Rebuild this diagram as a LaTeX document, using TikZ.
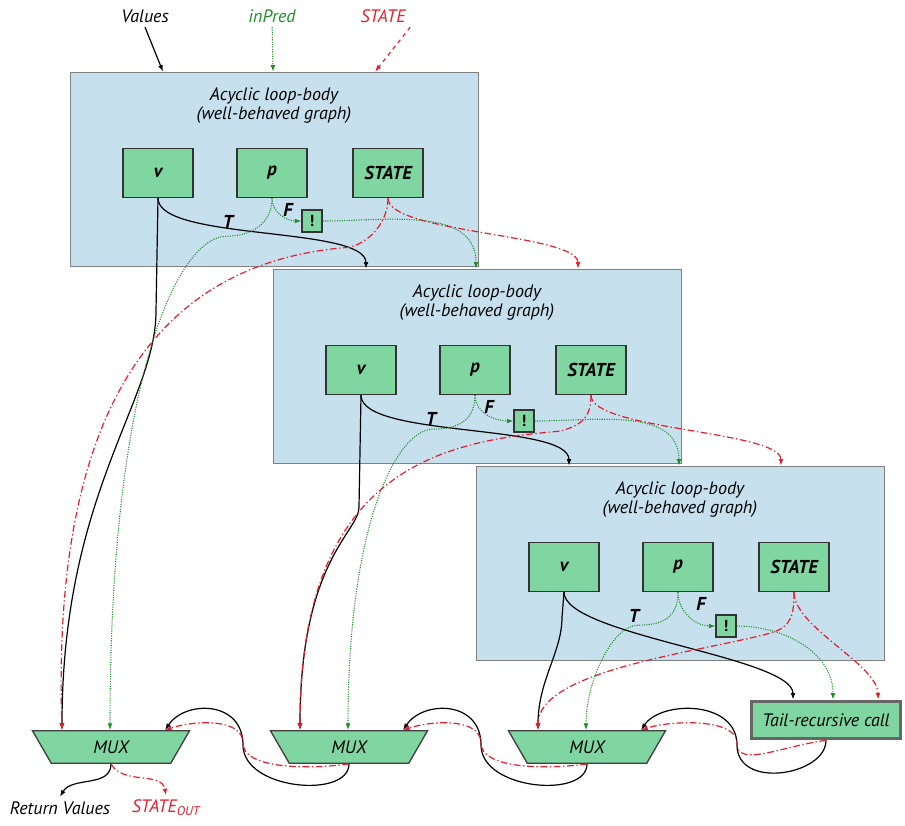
\documentclass[tikz,border=0pt]{standalone}
\usepackage{fontspec}
\setmainfont{PT Sans}
\usetikzlibrary{positioning, calc, arrows.meta, shapes.geometric}

\definecolor{bodyblue}{RGB}{198,224,238}
\definecolor{nodegreen}{RGB}{128,214,160}
\definecolor{predgreen}{RGB}{30,140,40}
\definecolor{statered}{RGB}{228,30,45}

\tikzset{
  body/.style={draw=gray, fill=bodyblue, minimum width=306pt, minimum height=145.5pt, inner sep=0pt},
  title/.style={font=\fontsize{13.5}{14.5}\selectfont\itshape, align=center},
  op/.style={draw=black!80, fill=nodegreen, line width=1pt, minimum width=52.5pt, minimum height=36.75pt, font=\fontsize{14}{16}\selectfont\bfseries\itshape},
  notbox/.style={draw=black!80, fill=nodegreen, line width=0.8pt, minimum width=15pt, minimum height=16.5pt, inner sep=0pt, font=\fontsize{12}{14}\selectfont\bfseries},
  branch/.style={font=\fontsize{14}{16}\selectfont\bfseries\itshape},
  mux/.style={trapezium, trapezium stretches body, shape border rotate=180, trapezium left angle=60, trapezium right angle=60, draw=black!75, fill=nodegreen, line width=1pt, minimum width=117.75pt, inner xsep=0pt, inner ysep=7.4pt, font=\fontsize{13.5}{15}\selectfont\itshape},
  tailcall/.style={draw=black!60, line width=2.5pt, fill=nodegreen, minimum width=112pt, minimum height=28pt, inner sep=1pt, font=\fontsize{13.5}{15}\selectfont\itshape},
  lbl/.style={font=\fontsize{13.5}{15}\selectfont\itshape},
  vflow/.style={->, line width=0.9pt, black},
  pflow/.style={->, densely dotted, line width=0.8pt, predgreen},
  sflow/.style={->, dash pattern=on 5pt off 2pt on 1pt off 2pt, line width=0.9pt, statered}
}

\begin{document}
\begin{tikzpicture}[x=0.75pt, y=-0.75pt, >={Latex[length=5pt,width=3.6pt]}]
  \useasboundingbox (0,0) rectangle (905,825);

  % --- Loop bodies ---
  \foreach \i/\nx/\ny/\fx in {1/40/48/16, 2/49/51/14, 3/48/59/23} {
    \node[body] (b\i) at ({274+203*(\i-1)}, {169+197*(\i-1)}) {};
    \node[title] (t\i) at ($(b\i.north)+(0,34)$) {Acyclic loop-body\\(well-behaved graph)};
    \node[op] (v\i) at ($(b\i.center)+(-116,4)$) {v};
    \node[op] (p\i) at ($(b\i.center)+(-2,4)$) {p};
    \node[op] (s\i) at ($(b\i.center)+(114,4)$) {STATE};
    \node[notbox] (n\i) at ($(p\i)+(\nx,\ny)$) {!};
    \node[branch] (tl\i) at ($(p\i)+(-44,49)$) {T};
    \node[branch] (fl\i) at ($(p\i)+(\fx,37)$) {F};
  }

  % --- Multiplexers and the recursive call ---
  \foreach \i in {1,2,3} {
    \node[mux] (mux\i) at ({111+238*(\i-1)}, 747) {MUX};
    \coordinate (mL\i) at ($(mux\i.north)+(-49,0)$);
    \coordinate (mM\i) at ($(mux\i.north)+(-1,0)$);
    \coordinate (mR\i) at ($(mux\i.north)+(54,0)$);
  }
  \node[tailcall] (tail) at (826,720) {Tail-recursive call};

  % inputs on top of each body
  \foreach \j in {1,2,3} {
    \coordinate (tV\j) at ($(b\j.north)+(-111,0)$);
    \coordinate (tP\j) at ($(b\j.north)+(-1,0)$);
    \coordinate (tS\j) at ($(b\j.north)+(101,0)$);
  }
  \coordinate (tV4) at ($(tail.north)+(-33,0)$);
  \coordinate (tP4) at ($(tail.north)+(7,0)$);
  \coordinate (tS4) at ($(tail.north)+(52,0)$);

  % --- Outer labels ---
  \node[lbl] (values) at (145,16) {Values};
  \node[lbl, text=predgreen] (inpred) at (272,16) {inPred};
  \node[lbl, text=statered] (statein) at (383,16) {STATE};
  \node[lbl] (ret) at (60,808) {Return Values};
  \node[lbl, text=statered] (stout) at (166,808) {STATE\textsubscript{OUT}};

  \draw[vflow] (values.south) -- (tV1);
  \draw[pflow] (inpred) -- (tP1);
  \draw[sflow, dashed] (statein.south east) -- (tS1);

  % --- Body to next body ---
  \foreach \i/\j in {1/2, 2/3, 3/4} {
    \draw[vflow] (v\i.south) .. controls +(0,43) and +(0,-43) .. (tV\j);
    \draw[sflow] (s\i.south) .. controls +(0,35) and +(0,-35) .. (tS\j);
    \draw[pflow] (p\i.south) to[out=-90, in=180] (n\i.west);
    \draw[pflow] (n\i.east) to[out=0, in=90] (tP\j);
  }

  % --- Body down to its MUX ---
  \foreach \i/\len/\ca/\cb in {1/113/90/237, 2/112/25/170, 3/25/35/50}
    \draw[vflow] (v\i.south) -- ++(-2,\len) .. controls +(0,\ca) and +(0,-\cb) .. (mL\i);
  \foreach \i/\mx/\my/\ca/\cy/\bx/\by in {1/-38/49/130/10/-13/400, 2/-31/36/120/10/0/260, 3/-24/41/70/19/0/60}
    \draw[sflow] (s\i.south) .. controls +(0,22) and +(22,-6) .. ($(s\i.south)+(\mx,\my)$)
      .. controls +(-\ca,\cy) and +(\bx,-\by) .. (mL\i);
  \foreach \i/\mx/\my/\ca/\cb in {1/-45/38/50/350, 2/-42/34/35/210, 3/-40/33/25/50}
    \draw[pflow] (p\i.south) .. controls +(0,25) and +(25,0) .. ($(p\i.south)+(\mx,\my)$)
      .. controls +(-\ca,0) and +(0,-\cb) .. (mM\i);

  % --- MUX chain ---
  \foreach \i/\src/\ox in {1/mux2/78, 2/mux3/78, 3/tail/96} {
    \draw[vflow] (\src.south) .. controls +(0,35) and +(0,45) .. ($(mR\i)+(\ox,15)$)
      .. controls +(0,-45) and +(20,-30) .. (mR\i);
    \draw[sflow] (\src.south) .. controls +(-45,6) and +(0,25) .. ($(mR\i)+(\ox,13)$)
      .. controls +(0,-25) and +(30,-10) .. (mR\i);
  }

  % --- Results ---
  \draw[vflow] (mux1.south) to[out=-90, in=60] (ret.north);
  \draw[sflow] (mux1.south) to[out=-60, in=100] (stout.north);

\end{tikzpicture}
\end{document}
